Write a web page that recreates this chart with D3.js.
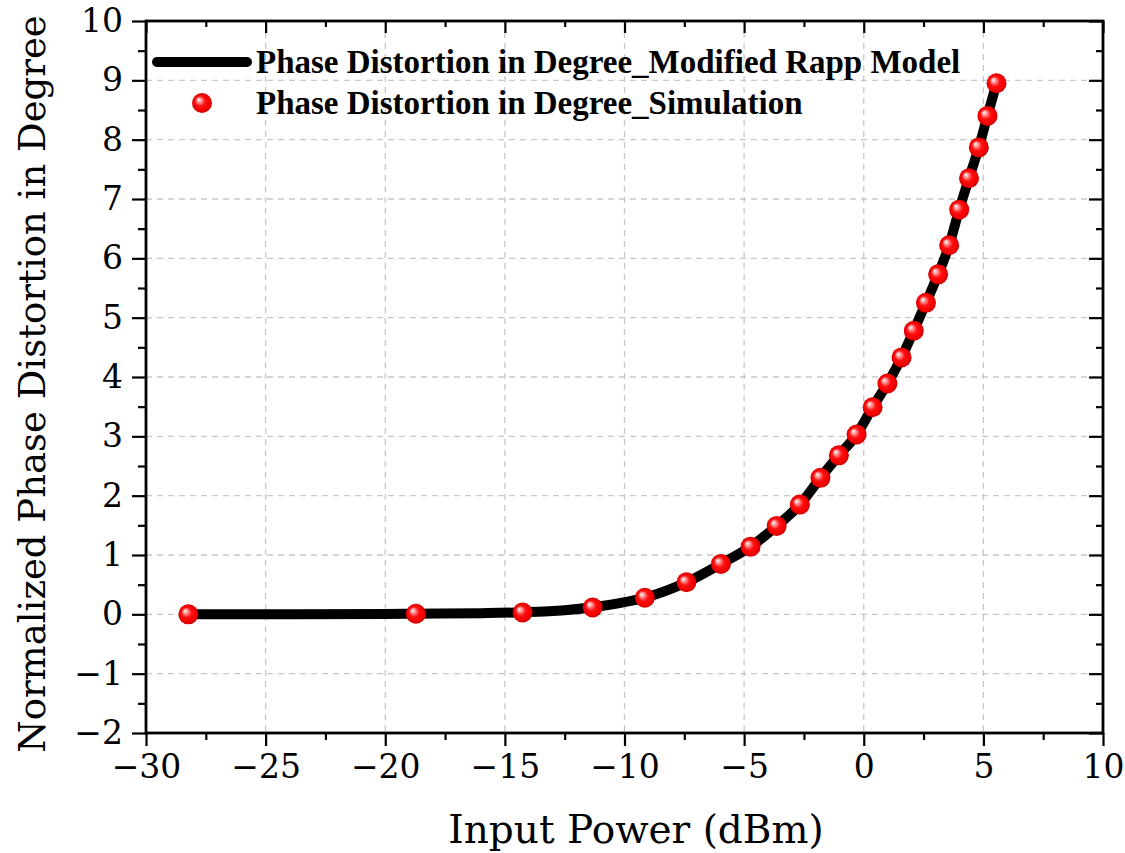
<!DOCTYPE html>
<html><head><meta charset="utf-8">
<script src="https://cdn.jsdelivr.net/npm/d3@7"></script>
<style>body{margin:0;background:#fff}svg{display:block}</style>
</head><body>
<svg id="c" width="1125" height="853"></svg>
<script>
// Data
const simX = [-28.23,-18.72,-14.26,-11.33,-9.15,-7.41,-5.97,-4.73,-3.64,-2.67,-1.81,-1.04,-0.30,0.37,0.99,1.58,2.09,2.60,3.11,3.57,3.99,4.40,4.81,5.17,5.55];
const simY = [0.00,0.01,0.03,0.115,0.28,0.54,0.85,1.14,1.49,1.85,2.30,2.68,3.03,3.49,3.89,4.33,4.78,5.25,5.73,6.22,6.82,7.35,7.87,8.40,8.95];
const modelX = [-28.23,-24,-20,-18.72,-16,-14.26,-12.5,-11.33,-10.2,-9.15,-7.41,-5.97,-4.73,-3.64,-2.67,-1.81,-1.04,-0.30,0.37,0.99,1.58,2.09,2.60,3.11,3.57,3.99,4.40,4.81,5.17,5.55];
const modelY = [0.00,0.00,0.005,0.01,0.02,0.035,0.07,0.12,0.19,0.28,0.54,0.85,1.14,1.49,1.85,2.30,2.68,3.03,3.49,3.89,4.33,4.78,5.25,5.73,6.22,6.82,7.35,7.87,8.40,8.95];
const xTicks = [-30,-25,-20,-15,-10,-5,0,5,10];
const yTicks = [-2,-1,0,1,2,3,4,5,6,7,8,9,10];
const legendLabels = ["Phase Distortion in Degree_Modified Rapp Model","Phase Distortion in Degree_Simulation"];
const xTitle = "Input Power (dBm)";
const yTitle = "Normalized Phase Distortion in Degree";

const L=146, R=1103, T=21, B=733;
const svg = d3.select("#c");
const x = d3.scaleLinear().domain([-30,10]).range([L,R]);
const y = d3.scaleLinear().domain([-2,10]).range([B,T]);
const tickFont = "'DejaVu Serif', serif";

const defs = svg.append("defs");
const g = defs.append("radialGradient").attr("id","ball").attr("cx","0.5").attr("cy","0.5").attr("r","0.5").attr("fx","0.32").attr("fy","0.32");
g.append("stop").attr("offset","0").attr("stop-color","#ffffff");
g.append("stop").attr("offset","0.22").attr("stop-color","#ff9a9a");
g.append("stop").attr("offset","0.5").attr("stop-color","#ff1010");
g.append("stop").attr("offset","0.85").attr("stop-color","#f00000");
g.append("stop").attr("offset","1").attr("stop-color","#c80000");

// grid
const xMinor = d3.range(-30,10.01,2.5);
const yMinor = d3.range(-2,10.01,0.5);
svg.append("g").selectAll("line").data(xTicks.slice(1,-1)).join("line")
  .attr("x1",d=>x(d)).attr("x2",d=>x(d)).attr("y1",T).attr("y2",B)
  .attr("stroke","#c8c8c8").attr("stroke-width",1.3).attr("stroke-dasharray","6,5");
svg.append("g").selectAll("line").data(yTicks.slice(1,-1)).join("line")
  .attr("y1",d=>y(d)).attr("y2",d=>y(d)).attr("x1",L).attr("x2",R)
  .attr("stroke","#c8c8c8").attr("stroke-width",1.3).attr("stroke-dasharray","6,5");

// axes
function styleAxis(sel){
  sel.select(".domain").remove();
  sel.selectAll(".tick line").attr("stroke","#000").attr("stroke-width",2.2);
  sel.selectAll(".tick text").attr("font-family",tickFont).attr("font-size",33).attr("fill","#000");
}
const fmt = d=> (d<0? "\u2212"+Math.abs(d): ""+d);
const ax = svg.append("g").attr("transform",`translate(0,${B})`)
  .call(d3.axisBottom(x).tickValues(xTicks).tickFormat(fmt).tickSize(13).tickPadding(9));
styleAxis(ax);
svg.append("g").attr("transform",`translate(0,${B})`)
  .call(d3.axisBottom(x).tickValues(xMinor.filter(v=>!xTicks.includes(v))).tickFormat("").tickSize(7)).call(styleAxis);
const ay = svg.append("g").attr("transform",`translate(${L},0)`)
  .call(d3.axisLeft(y).tickValues(yTicks).tickFormat(fmt).tickSize(14).tickPadding(9));
styleAxis(ay);
svg.append("g").attr("transform",`translate(${L},0)`)
  .call(d3.axisLeft(y).tickValues(yMinor.filter(v=>!yTicks.includes(v))).tickFormat("").tickSize(8)).call(styleAxis);
// top & right inward ticks
svg.append("g").attr("transform",`translate(0,${T})`)
  .call(d3.axisBottom(x).tickValues(xTicks).tickFormat("").tickSize(12)).call(styleAxis);
svg.append("g").attr("transform",`translate(0,${T})`)
  .call(d3.axisBottom(x).tickValues(xMinor.filter(v=>!xTicks.includes(v))).tickFormat("").tickSize(6)).call(styleAxis);
svg.append("g").attr("transform",`translate(${R},0)`)
  .call(d3.axisLeft(y).tickValues(yTicks).tickFormat("").tickSize(14)).call(styleAxis);
svg.append("g").attr("transform",`translate(${R},0)`)
  .call(d3.axisLeft(y).tickValues(yMinor.filter(v=>!yTicks.includes(v))).tickFormat("").tickSize(7)).call(styleAxis);

// frame
svg.append("rect").attr("x",L).attr("y",T).attr("width",R-L).attr("height",B-T)
  .attr("fill","none").attr("stroke","#000").attr("stroke-width",2.8);

// model line
const pts = modelX.map((v,i)=>[v,modelY[i]]);
svg.append("path").datum(pts)
  .attr("d", d3.line().x(d=>x(d[0])).y(d=>y(d[1])).curve(d3.curveMonotoneX))
  .attr("fill","none").attr("stroke","#000").attr("stroke-width",10).attr("stroke-linecap","round").attr("stroke-linejoin","round");

// markers
svg.append("g").selectAll("circle").data(simX.map((v,i)=>[v,simY[i]])).join("circle")
  .attr("cx",d=>x(d[0])).attr("cy",d=>y(d[1])).attr("r",10).attr("fill","url(#ball)");

// legend
const lg = svg.append("g");
lg.append("line").attr("x1",157).attr("x2",247).attr("y1",62).attr("y2",62)
  .attr("stroke","#000").attr("stroke-width",10).attr("stroke-linecap","round");
lg.append("circle").attr("cx",202).attr("cy",103).attr("r",10).attr("fill","url(#ball)");
lg.selectAll("text").data(legendLabels).join("text")
  .attr("x",256).attr("y",(d,i)=>73+i*41)
  .attr("font-family","'Liberation Serif', 'Times New Roman', serif").attr("font-weight","bold")
  .attr("font-size",33).attr("fill","#000").text(d=>d);

// titles
svg.append("text").attr("x",636).attr("y",843).attr("text-anchor","middle")
  .attr("font-family",tickFont).attr("font-size",39).text(xTitle);
svg.append("text").attr("transform",`translate(45,384) rotate(-90)`).attr("text-anchor","middle")
  .attr("font-family",tickFont).attr("font-size",37).text(yTitle);
</script>
</body></html>
